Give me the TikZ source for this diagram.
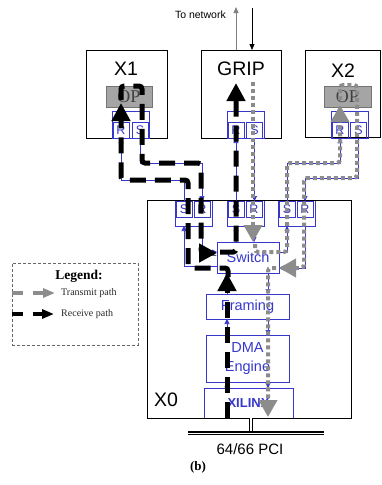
\documentclass[tikz,border=0pt]{standalone}
\usepackage{fontspec}
\setmainfont{Liberation Serif}
\newfontfamily\sansf{Liberation Sans}
\usetikzlibrary{arrows.meta,calc}
\definecolor{pblue}{RGB}{55,55,205}
\definecolor{pgray}{RGB}{140,140,140}
\definecolor{opfill}{RGB}{165,165,165}
\begin{document}
\begin{tikzpicture}[x=1pt,y=-1pt,
  bbox/.style={draw=black,line width=1pt,inner sep=0,outer sep=0},
  opbox/.style={draw=black!55,fill=opfill,line width=0.8pt,inner sep=0,outer sep=0,font=\fontsize{18}{18}\selectfont,text=black!75},
  pframe/.style={draw=pblue,line width=0.8pt,inner sep=0,outer sep=0,minimum width=37pt},
  portbox/.style={draw=pblue,line width=0.8pt,inner sep=0,outer sep=0,minimum width=16pt,minimum height=16pt,text=pblue,font=\sansf\fontsize{12.5}{12.5}\selectfont},
  fbox/.style={draw=pblue,line width=0.8pt,inner sep=0,outer sep=0,text=pblue,font=\sansf\fontsize{14.5}{19}\selectfont,align=center},
  lbl/.style={font=\sansf\fontsize{19.5}{20}\selectfont,inner sep=0},
  bl/.style={draw=pblue,line width=0.7pt,-{Triangle[width=5pt,length=5pt]}},
  rcv/.style={draw=black,line width=5pt,dash pattern=on 16pt off 9pt,-{Triangle[width=18pt,length=18pt]},rounded corners=3pt},
  xmt/.style={draw=pgray,line width=4pt,dash pattern=on 4pt off 3pt,-{Triangle[width=18pt,length=17pt]},rounded corners=3pt},
]
\useasboundingbox (0,0) rectangle (381,485);

% peripheral boxes
\node[bbox,minimum width=81pt,minimum height=88pt] (x1) at (126.5,94) {};
\node[lbl] (x1l) at (126,69) {X1};
\node[bbox,minimum width=80pt,minimum height=88pt] (grip) at (241,94) {};
\node[lbl] (gripl) at (241,69) {GRIP};
\node[bbox,minimum width=75pt,minimum height=87pt] (x2) at (342.5,93.5) {};
\node[lbl] (x2l) at (343,71) {X2};

\node[opbox,minimum width=46pt,minimum height=21pt] (op1) at (129,96.5) {OP};
\node[opbox,minimum width=47pt,minimum height=21pt] (op2) at (347.5,96.5) {OP};

% peripheral port frames
\node[pframe,minimum height=27pt] (pp1) at (130.5,124.5) {};
\node[portbox] (x1r) at (121,130) {R};
\node[portbox] (x1s) at (140,130) {S};
\node[pframe,minimum height=27pt] (ppg) at (245.5,124.5) {};
\node[portbox] (grr) at (236,130) {R};
\node[portbox] (grs) at (254.5,130) {S};
\node[pframe,minimum height=27pt] (pp2) at (349.5,124.5) {};
\node[portbox] (x2r) at (340,130) {R};
\node[portbox] (x2s) at (358.5,130) {S};

% X0 port frames
\node[pframe,minimum height=26pt] (pf1) at (193.5,213) {};
\node[portbox] (f1s) at (184,209) {S};
\node[portbox] (f1r) at (202,209) {R};
\node[pframe,minimum height=26pt] (pf2) at (245.5,213) {};
\node[portbox] (f2s) at (236,209) {S};
\node[portbox] (f2r) at (254,209) {R};
\node[pframe,minimum height=26pt] (pf3) at (296.5,213) {};
\node[portbox] (f3s) at (287,209) {S};
\node[portbox] (f3r) at (305,209) {R};

% X0 internals
\node[fbox,minimum width=62pt,minimum height=31pt] (sw) at (248,257.5) {Switch};
\node[fbox,minimum width=83pt,minimum height=25pt] (fr) at (247.5,306.5) {Framing};
\node[fbox,minimum width=83pt,minimum height=47pt] (dma) at (247.5,358.5) {DMA\\Engine};
\node[fbox,minimum width=89pt,minimum height=30pt,font=\sansf\bfseries\fontsize{13}{13}\selectfont] (xil) at (248.5,403) {XILINX};

\node[bbox,minimum width=204pt,minimum height=218pt] (x0) at (249,309) {};
\node[lbl] (x0l) at (166,400) {X0};

% blue connectors
\coordinate (tx) at (268,0);
\coordinate (rx) at (227,0);
\draw[bl] (x1s.south) -- ++(0,25) -| (f1r.north);
\draw[bl] (f1s.north) -- ++(0,-21) -| (x1r.south);
\draw[bl] (f2s.north) -- (grr.south);
\draw[bl] (grs.south) -- (grs.south |- f2r.north);
\draw[bl] (f3s.north) -- ++(0,-38) -| (x2r.south);
\draw[bl] (x2s.south) -- ++(0,40) -| (f3r.north);
\draw[bl] (sw.west |- 0,266) -| (f1s |- pf1.south);
\draw[bl] (f1r |- pf1.south) |- (sw.west |- 0,252);
\draw[bl] (sw.north -| f2s) -- (f2s |- pf2.south);
\draw[bl] (f2r |- pf2.south) -- (sw.north -| f2r);
\draw[bl] (sw.east |- 0,252) -| (f3s |- pf3.south);
\draw[bl] (f3r |- pf3.south) |- (sw.east |- 0,268);
\draw[bl] (sw.south -| tx) -- (fr.north -| tx);
\draw[bl] (fr.south -| tx) -- (dma.north -| tx);
\draw[bl] (dma.south -| tx) -- (xil.north -| tx);
\draw[bl] (xil.north -| rx) -- (dma.south -| rx);
\draw[bl] (dma.north -| rx) -- (fr.south -| rx);
\draw[bl] (fr.north -| rx) -- (sw.south -| rx);

% transmit path (gray)
\draw[xmt] (253,82) -- (sw.north -| 253,0);
\draw[xmt] (255,244) -- (255,252) -- (287,252) -- (287,163) -- (340,163) -- (340,105);
\draw[xmt] (340,100) -- (340,85) -- (357,85) -- (357,178) -- (304,178) -- (304,268) -- (sw.east |- 0,268);
\draw[xmt] (276,268) -- (268,268) -- (268,417);

% receive path (black)
\draw[rcv] (rx |- xil.south) -- (rx |- sw.south);
\draw[rcv] (228,277) -- (228,268) -- (188,268) -- (188,180) -- (121,180) -- (121,103);
\draw[rcv] (121,100) -- (121,86) -- (142,86) -- (142,163) -- (201,163) -- (201,253) -- (sw.west |- 0,253);
\draw[rcv] (220,252) -- (236,252) -- (236,83);

% network
\node[anchor=east,font=\sansf\fontsize{10.5}{10.5}\selectfont,inner sep=0] (net) at (226,15) {To network};
\draw[draw=black!50,line width=0.8pt,-{Triangle[width=5pt,length=6pt]}] (grip.north -| 236,0) -- (236,7);
\draw[draw=black,line width=0.8pt,-{Triangle[width=5pt,length=6pt]}] (252,8) -- (grip.north -| 252,0);

% PCI bus
\coordinate (busl) at (188,433);
\coordinate (busr) at (324,433);
\draw[line width=0.9pt,double=white,double distance=1.6pt] (x0.south -| 251,0) -- (251,431.5);
\draw[line width=1.4pt,double=white,double distance=0.9pt] (busl) -- (busr);
\node[font=\sansf\fontsize{15}{15}\selectfont] (pci) at (250,449) {64/66 PCI};
\node[font=\bfseries\fontsize{13}{13}\selectfont] (cap) at (198,467) {(b)};

% legend
\node[draw=black!60,dash pattern=on 3pt off 2pt,line width=0.8pt,minimum width=126pt,minimum height=82pt,inner sep=0] (leg) at (75,304) {};
\node[font=\bfseries\fontsize{13.5}{13.5}\selectfont] (legt) at (79,276) {Legend:};
\draw[draw=pgray,line width=3.5pt,dash pattern=on 11pt off 10pt,-{Triangle[width=9pt,length=12pt]}] (leg.west |- 0,293) -- (55,293);
\node[anchor=west,font=\fontsize{10}{10}\selectfont,text=black!85,inner sep=0] (lt) at (61,293) {Transmit path};
\draw[draw=black,line width=3.5pt,dash pattern=on 11pt off 10pt,-{Triangle[width=9pt,length=12pt]}] (leg.west |- 0,314) -- (54,314);
\node[anchor=west,font=\fontsize{10}{10}\selectfont,text=black!85,inner sep=0] (lr) at (61,314) {Receive path};
\end{tikzpicture}
\end{document}
